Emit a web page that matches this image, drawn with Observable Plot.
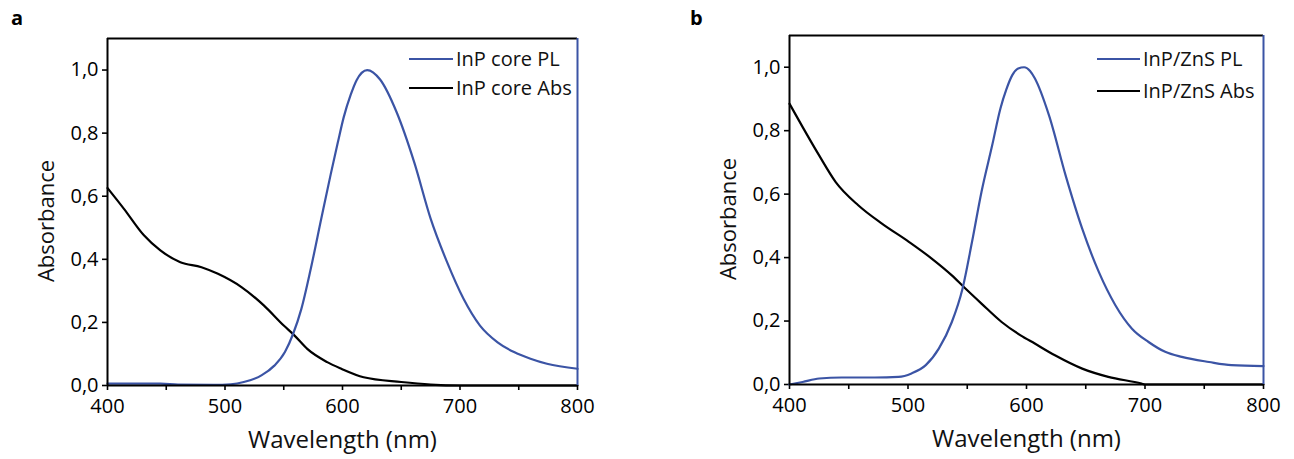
<!DOCTYPE html>
<html>
<head>
<meta charset="utf-8">
<script src="https://cdn.jsdelivr.net/npm/d3@7"></script>
<script src="https://cdn.jsdelivr.net/npm/@observablehq/plot@0.6"></script>
<style>
  body { margin: 0; background: #fff; }
  #root { position: relative; width: 1294px; height: 459px; overflow: hidden; font-family: "Open Sans", sans-serif; }
  .panel { position: absolute; top: 0; }
  #overlay { position: absolute; left: 0; top: 0; pointer-events: none; }
</style>
</head>
<body>
<div id="root"></div>
<script>
// ---------- data ----------
// Panel a: InP core
const plA_wl  = [400, 420, 445, 460, 490, 505, 516, 531, 542, 551, 558, 565, 573, 582, 590, 596, 601, 607, 612, 621, 632, 646, 661, 675, 689, 703, 717, 732, 746, 760, 774, 800];
const plA_val = [0.006, 0.006, 0.006, 0.003, 0.002, 0.004, 0.011, 0.032, 0.063, 0.106, 0.164, 0.243, 0.370, 0.530, 0.670, 0.770, 0.850, 0.922, 0.968, 1.000, 0.970, 0.867, 0.708, 0.529, 0.391, 0.275, 0.190, 0.137, 0.106, 0.085, 0.069, 0.053];
const absA_wl  = [400, 414, 431, 445, 462, 480, 494, 514, 533, 550, 559, 570, 587, 599, 618, 650, 675, 700, 750, 800];
const absA_val = [0.626, 0.560, 0.476, 0.428, 0.391, 0.375, 0.354, 0.312, 0.254, 0.190, 0.159, 0.116, 0.074, 0.053, 0.026, 0.011, 0.003, 0.000, 0.000, 0.000];

// Panel b: InP/ZnS
const plB_wl  = [400, 411, 425, 444, 472, 492, 503, 515, 526, 537, 546, 554, 562, 571, 578, 583, 588, 593, 598, 603, 607, 619, 633, 647, 661, 675, 689, 703, 717, 731, 754, 773, 800];
const plB_val = [0.000, 0.008, 0.019, 0.022, 0.022, 0.024, 0.035, 0.061, 0.113, 0.197, 0.302, 0.449, 0.607, 0.753, 0.870, 0.930, 0.975, 0.996, 1.000, 0.988, 0.965, 0.848, 0.659, 0.491, 0.355, 0.250, 0.176, 0.134, 0.103, 0.087, 0.071, 0.061, 0.058];
const absB_wl  = [400, 411, 425, 439, 458, 478, 501, 520, 537, 548, 562, 579, 595, 607, 624, 647, 669, 697, 700, 750, 800];
const absB_val = [0.885, 0.812, 0.722, 0.638, 0.565, 0.507, 0.449, 0.397, 0.344, 0.304, 0.255, 0.197, 0.155, 0.129, 0.092, 0.050, 0.024, 0.003, 0.000, 0.000, 0.000];

const xTicks = [400, 450, 500, 550, 600, 650, 700, 750, 800];
const yTicks = [0, 0.2, 0.4, 0.6, 0.8, 1.0];
const xDomain = [400, 800];
const yDomain = [0, 1.1];
const seriesA = ["InP core PL", "InP core Abs"];
const seriesB = ["InP/ZnS PL", "InP/ZnS Abs"];
const panelTags = ["a", "b"];

const BLUE = "#3b54a5";
const FONT = "'Open Sans', sans-serif";

const toRows = (wl, val) => wl.map((w, i) => ({wl: w, v: val[i]}));

function makePanel({pl, abs, width, marginTop, marginBottom, marginRight}) {
  return Plot.plot({
    width, height: 459,
    marginLeft: 107, marginRight, marginTop, marginBottom,
    style: {fontFamily: FONT, fontSize: "20px", color: "#000", background: "transparent", overflow: "visible"},
    x: {domain: xDomain},
    y: {domain: yDomain},
    marks: [
      Plot.axisX({ticks: xTicks, tickSize: 5, tickPadding: 8, strokeWidth: 1.6,
                  tickFormat: d => d % 100 === 0 ? String(d) : "", label: null, fontSize: 20}),
      Plot.axisY({ticks: yTicks, tickSize: 5, tickPadding: 4, strokeWidth: 1.6,
                  tickFormat: d => d.toFixed(1).replace(".", ","), label: null, fontSize: 20}),
      Plot.text(["Wavelength (nm)"], {frameAnchor: "bottom", dy: 62, fontSize: 24, fill: "#111"}),
      Plot.text(["Absorbance"], {frameAnchor: "left", textAnchor: "middle", dx: -61, dy: 9, rotate: -90, fontSize: 22, fill: "#111"}),
      Plot.line(abs, {x: "wl", y: "v", stroke: "#000", strokeWidth: 2.2, curve: "monotone-x"}),
      Plot.line(pl, {x: "wl", y: "v", stroke: BLUE, strokeWidth: 2.2, curve: "monotone-x"}),
      Plot.ruleY([yDomain[1]], {stroke: "#000", strokeWidth: 2}),
      Plot.ruleX([xDomain[0]], {stroke: "#000", strokeWidth: 2}),
      Plot.ruleY([yDomain[0]], {stroke: "#000", strokeWidth: 2}),
      Plot.ruleX([xDomain[1]], {stroke: BLUE, strokeWidth: 2})
    ]
  });
}

const root = document.getElementById("root");

const pA = makePanel({pl: toRows(plA_wl, plA_val), abs: toRows(absA_wl, absA_val),
                      width: 600, marginTop: 38, marginBottom: 74, marginRight: 23});
pA.classList.add("panel");
pA.style.left = "0px";
root.appendChild(pA);

const pB = makePanel({pl: toRows(plB_wl, plB_val), abs: toRows(absB_wl, absB_val),
                      width: 611, marginTop: 35, marginBottom: 75, marginRight: 30});
pB.classList.add("panel");
pB.style.left = "682px";
root.appendChild(pB);

// ---------- overlay: panel tags and legends ----------
const svg = d3.select(root).append("svg").attr("id", "overlay")
  .attr("width", 1294).attr("height", 459)
  .style("font-family", FONT);

svg.append("text").attr("x", 11).attr("y", 25).attr("font-size", 20).attr("font-weight", "bold").text(panelTags[0]);
svg.append("text").attr("x", 690).attr("y", 25).attr("font-size", 20).attr("font-weight", "bold").text(panelTags[1]);

function legend(x0, x1, ys, names) {
  const colors = [BLUE, "#000"];
  names.forEach((n, i) => {
    svg.append("line").attr("x1", x0).attr("x2", x1).attr("y1", ys[i]).attr("y2", ys[i])
      .attr("stroke", colors[i]).attr("stroke-width", 2);
    svg.append("text").attr("x", x1 + 3).attr("y", ys[i] + 7).attr("font-size", 20).attr("fill", "#111").text(n);
  });
}
legend(409, 453, [59, 88], seriesA);
legend(1097, 1140, [59, 91], seriesB);
</script>
</body>
</html>
